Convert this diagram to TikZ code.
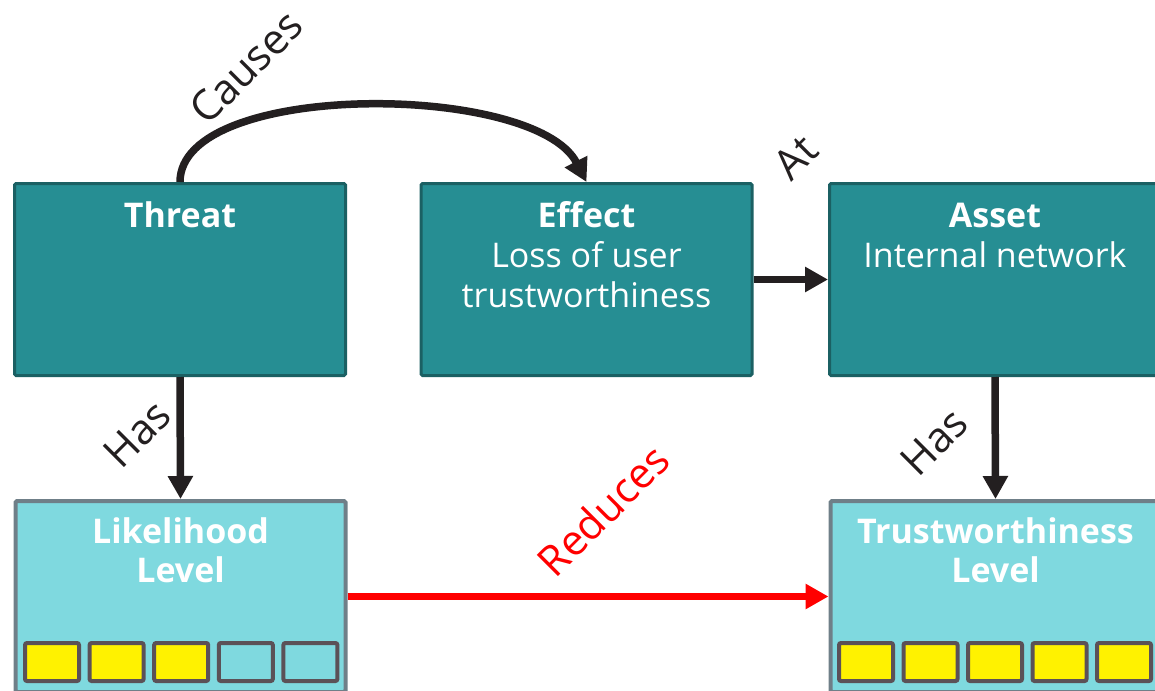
\documentclass[tikz,border=0pt]{standalone}
\usepackage{fontspec}
\setmainfont{Open Sans}
\usetikzlibrary{arrows.meta}
\definecolor{tealfill}{HTML}{268E93}
\definecolor{tealline}{HTML}{1B6063}
\definecolor{cyanfill}{HTML}{7FD9DF}
\definecolor{cyanline}{HTML}{6F7F88}
\definecolor{squareline}{HTML}{5B5157}
\definecolor{arrowblack}{HTML}{231F20}

\begin{document}
\begin{tikzpicture}[x=1pt,y=-1pt,
        darkbox/.style={draw=tealline,fill=tealfill,line width=3pt,rounded corners=1.5pt,minimum width=331pt,minimum height=192pt,inner sep=0pt},
        lightbox/.style={draw=cyanline,fill=cyanfill,line width=4pt,rounded corners=1.5pt,minimum width=330pt,minimum height=191pt,inner sep=0pt},
        levelsq/.style={draw=squareline,line width=4pt,rounded corners=2pt,minimum width=54pt,minimum height=38pt,inner sep=0pt},
        boxtext/.style={text=white,anchor=base,inner sep=0pt,font=\fontsize{34}{40}\selectfont},
        linktext/.style={text=arrowblack,rotate=45,inner sep=0pt,font=\fontsize{42}{48}\selectfont},
        link/.style={draw=arrowblack,line width=7.5pt,-{Triangle[length=23pt,width=24pt]}},
    ]
        \clip (0,0) rectangle (1155,690);
        \useasboundingbox (0,0) rectangle (1155,690);
        % boxes
        \node[darkbox] (threat) at (180,279.5) {};
        \node[darkbox] (effect) at (586.5,279.5) {};
        \node[darkbox] (asset) at (995,279.5) {};
        \node[lightbox] (likely) at (180.5,596.5) {};
        \node[lightbox] (trust) at (995.5,596.5) {};
        % box texts
        \node[boxtext] at (180,227) {\textbf{Threat}};
        \node[boxtext] at (586.5,227) {\textbf{Effect}};
        \node[boxtext] at (586.5,267) {Loss of user};
        \node[boxtext] at (586.5,307) {trustworthiness};
        \node[boxtext] at (995,227) {\textbf{Asset}};
        \node[boxtext] at (995,267) {Internal network};
        \node[boxtext] at (180.5,543) {\textbf{Likelihood}};
        \node[boxtext] at (180.5,582) {\textbf{Level}};
        \node[boxtext] at (995.5,543) {\textbf{Trustworthiness}};
        \node[boxtext] at (995.5,582) {\textbf{Level}};
        % level squares
        \foreach \i in {0,...,4} {
            \ifnum\i<3
                \node[levelsq,fill=yellow] (lsq\i) at ({52+64.6*\i},662) {};
            \else
                \node[levelsq,fill=cyanfill] (lsq\i) at ({52+64.6*\i},662) {};
            \fi
            \node[levelsq,fill=yellow] (tsq\i) at ({866+64.5*\i},662) {};
        }
        % connectors
        \draw[link] (threat.north) .. controls (180,80) and (535,82) .. (effect.north);
        \draw[link] (effect.east) -- (asset.west);
        \draw[link] (threat.south) -- (likely.north);
        \draw[link] (asset.south) -- (trust.north);
        \draw[link,draw=red,line width=7pt] (likely.east) -- (trust.west);
        % connector labels
        \node[linktext] at (246,67) {Causes};
        \node[linktext] at (796,157) {At};
        \node[linktext] at (137,434) {Has};
        \node[linktext] at (934,442) {Has};
        \node[linktext,text=red] at (603,510) {Reduces};
    \end{tikzpicture}
\end{document}
